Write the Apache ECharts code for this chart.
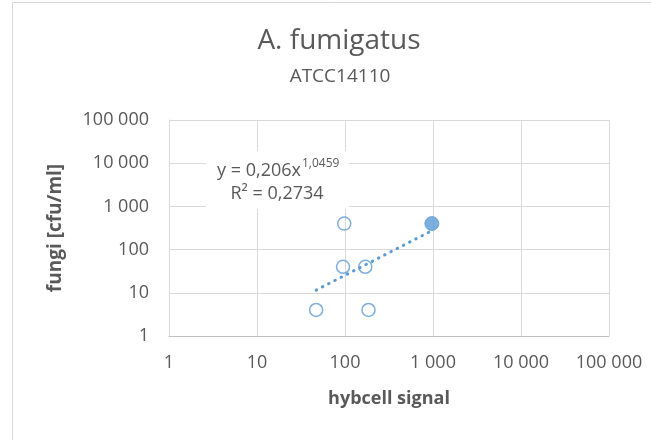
<!DOCTYPE html>
<html>
<head>
<meta charset="utf-8">
<script src="https://cdn.jsdelivr.net/npm/echarts@6/dist/echarts.min.js"></script>
<style>
  html, body { margin: 0; padding: 0; background: #fff; }
  #chart { width: 651px; height: 440px; }
</style>
</head>
<body>
<div id="chart"></div>
<script>
// Measured samples: hybcell signal vs. fungi count (cfu/ml)
const hybcellOpen = [47, 98, 95, 170, 185];
const fungiOpen   = [4, 400, 40, 40, 4];
const hybcellFilled = [970];
const fungiFilled   = [400];

// Power trendline y = a * x^b (coefficients as printed in the label)
const trendA = 0.206;
const trendB = 1.0459;
const trendR2 = '0,2734';

// Axis ticks (log decades)
const axisMin = 1;
const axisMax = 100000;

const FONT = '"Open Sans", sans-serif';
const TEXT = '#595959';
const BLUE = '#5B9BD5';
const GRID = '#D9D9D9';

function fmt(v) {
  return Math.round(v).toString().replace(/\B(?=(\d{3})+(?!\d))/g, ' ');
}

const allX = hybcellOpen.concat(hybcellFilled);
const xLo = Math.min.apply(null, allX);
const xHi = Math.max.apply(null, allX);
const trendData = [xLo, xHi].map(x => [x, trendA * Math.pow(x, trendB)]);

const chart = echarts.init(document.getElementById('chart'), null, { renderer: 'canvas' });

chart.setOption({
  animation: false,
  backgroundColor: '#fff',
  grid: { left: 169, right: 42, top: 120, bottom: 104 },
  xAxis: {
    type: 'log', logBase: 10, min: axisMin, max: axisMax,
    name: 'hybcell signal', nameLocation: 'middle', nameGap: 54,
    nameTextStyle: { fontFamily: FONT, fontSize: 18, fontWeight: 'bold', color: TEXT },
    axisLine: { show: true, lineStyle: { color: '#BFBFBF', width: 1 } },
    axisTick: { show: false },
    splitLine: { show: true, lineStyle: { color: GRID, width: 1 } },
    minorTick: { show: false },
    axisLabel: { fontFamily: FONT, fontSize: 18, color: TEXT, margin: 18, formatter: fmt,
                 showMinLabel: true, showMaxLabel: true }
  },
  yAxis: {
    type: 'log', logBase: 10, min: axisMin, max: axisMax,
    name: 'fungi [cfu/ml]', nameLocation: 'middle', nameGap: 104, nameRotate: 90,
    nameTextStyle: { fontFamily: FONT, fontSize: 19, fontWeight: 'bold', color: TEXT },
    axisLine: { show: true, lineStyle: { color: GRID, width: 1 } },
    axisTick: { show: false },
    splitLine: { show: true, lineStyle: { color: GRID, width: 1 } },
    axisLabel: { fontFamily: FONT, fontSize: 18, color: TEXT, margin: 20, formatter: fmt }
  },
  graphic: [
    // outer chart-area frame
    { type: 'rect', silent: true, z: -1,
      shape: { x: 12.5, y: 2.5, width: 700, height: 500 },
      style: { fill: '#fff', stroke: GRID, lineWidth: 1 } },
    { type: 'text', silent: true, x: 339, y: 41,
      style: { text: 'A. fumigatus', font: '28px ' + FONT, fill: TEXT, align: 'center', verticalAlign: 'middle' } },
    { type: 'text', silent: true, x: 340, y: 77,
      style: { text: 'ATCC14110', font: '19px ' + FONT, fill: TEXT, align: 'center', verticalAlign: 'middle' } },
    // trendline equation box
    { type: 'rect', silent: true, z: 50,
      shape: { x: 206, y: 151, width: 143, height: 58 },
      style: { fill: '#fff' } },
    { type: 'text', silent: true, z: 51, x: 301, y: 171,
      style: { text: 'y = 0,206x', font: '18px ' + FONT, fill: TEXT, align: 'right', verticalAlign: 'middle' } },
    { type: 'text', silent: true, z: 51, x: 302, y: 164,
      style: { text: '1,0459', font: '12px ' + FONT, fill: TEXT, align: 'left', verticalAlign: 'middle' } },
    { type: 'text', silent: true, z: 51, x: 277, y: 194,
      style: { text: 'R² = ' + trendR2, font: '18px ' + FONT, fill: TEXT, align: 'center', verticalAlign: 'middle' } }
  ],
  series: [
    {
      type: 'scatter', z: 2,
      data: hybcellOpen.map((x, i) => [x, fungiOpen[i]]),
      symbol: 'circle', symbolSize: 13,
      itemStyle: { color: 'rgba(255,255,255,0)', borderColor: BLUE, borderWidth: 1.5 }
    },
    {
      type: 'scatter', z: 2,
      data: hybcellFilled.map((x, i) => [x, fungiFilled[i]]),
      symbol: 'circle', symbolSize: 14,
      itemStyle: { color: BLUE, borderColor: BLUE, borderWidth: 1 }
    },
    {
      type: 'line', z: 3, silent: true,
      data: trendData, showSymbol: false, symbol: 'none',
      lineStyle: { color: BLUE, width: 3, type: [0.5, 6.5], cap: 'round' }
    }
  ]
});
</script>
</body>
</html>
